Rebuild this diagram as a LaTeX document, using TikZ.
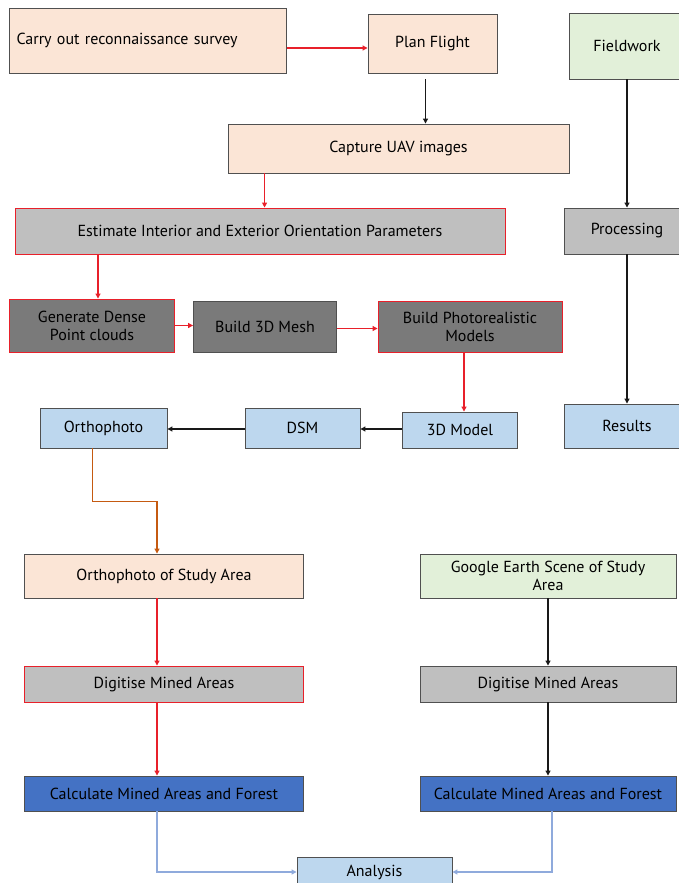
\documentclass[tikz,border=0pt]{standalone}
\usepackage{fontspec}
\setmainfont{PT Sans}
\usepackage{tikz}
\usetikzlibrary{arrows.meta,calc,positioning}
\definecolor{peach}{HTML}{FBE5D6}
\definecolor{leaf}{HTML}{E2F0D9}
\definecolor{lgray}{HTML}{BFBFBF}
\definecolor{dgray}{HTML}{7A7A7A}
\definecolor{sky}{HTML}{BDD7EE}
\definecolor{royal}{HTML}{4472C4}
\definecolor{edge}{HTML}{505050}
\definecolor{redline}{HTML}{E8202A}
\definecolor{rust}{HTML}{C55A11}
\definecolor{steel}{HTML}{8FAADC}

\begin{document}
\begin{tikzpicture}[x=1pt,y=-1pt,
	font=\fontsize{16}{18}\selectfont,
	box/.style={draw=edge, line width=0.9pt, inner sep=2pt, align=center},
	redbox/.style={box, draw=redline},
	arr/.style={line width=1.1pt, -{Triangle[length=5pt,width=5pt]}},
	redarr/.style={arr, redline},
	blackarr/.style={arr, black!90},
	rustarr/.style={arr, rust},
	steelarr/.style={arr, steel}]
	
	\useasboundingbox (0,0) rectangle (679,883);
	\clip (0,0) rectangle (679,883);
	
	% UAV branch
	\node (carry) at (148,40.5) [box, fill=peach, minimum width=277pt, minimum height=65pt, text width=263pt, align=left, inner xsep=7pt] {Carry out reconnaissance survey};
	\node (plan) at (432.5,43.5) [box, fill=peach, minimum width=129pt, minimum height=59pt] {Plan Flight};
	\node (capture) at (398.5,148.5) [box, fill=peach, minimum width=341pt, minimum height=49pt] {Capture UAV images};
	\node (estimate) at (260,231) [redbox, fill=lgray, minimum width=490pt, minimum height=46pt] {Estimate Interior and Exterior Orientation Parameters};
	
	\node (dense) at (92,325.5) [redbox, fill=dgray, minimum width=165pt, minimum height=53pt] {Generate Dense\\Point clouds};
	\node (mesh) at (265,326.5) [box, fill=dgray, minimum width=143pt, minimum height=51pt] {Build 3D Mesh};
	\node (photo) at (470,326.5) [redbox, fill=dgray, minimum width=184pt, minimum height=51pt] {Build Photorealistic\\Models};
	
	\node (ortho) at (103.5,428) [box, fill=sky, minimum width=127pt, minimum height=40pt] {Orthophoto};
	\node (dsm) at (302.5,428) [box, fill=sky, minimum width=115pt, minimum height=40pt] {DSM};
	\node (model) at (460,430) [box, fill=sky, minimum width=115pt, minimum height=36pt] {3D Model};
	
	% fieldwork branch
	\node (field) at (627,46) [box, fill=leaf, minimum width=116pt, minimum height=66pt] {Fieldwork};
	\node (proc) at (627,231) [box, fill=lgray, minimum width=126pt, minimum height=46pt] {Processing};
	\node (results) at (627,426) [box, fill=sky, minimum width=126pt, minimum height=44pt] {Results};
	
	% mapping
	\node (osa) at (164,576) [box, fill=peach, minimum width=279pt, minimum height=44pt] {Orthophoto of Study Area};
	\node (google) at (548,576) [box, fill=leaf, minimum width=256pt, minimum height=44pt, inner ysep=0pt] {Google Earth Scene of Study\\Area};
	\node (digL) at (164,684) [redbox, fill=lgray, minimum width=279pt, minimum height=36pt] {Digitise Mined Areas};
	\node (digR) at (548,684) [box, fill=lgray, minimum width=256pt, minimum height=36pt] {Digitise Mined Areas};
	\node (calcL) at (164,793.5) [box, fill=royal, minimum width=279pt, minimum height=35pt] {Calculate Mined Areas and Forest};
	\node (calcR) at (548,793.5) [box, fill=royal, minimum width=256pt, minimum height=35pt] {Calculate Mined Areas and Forest};
	\node (analysis) at (374.5,872) [box, fill=sky, minimum width=155pt, minimum height=30pt] {Analysis};
	
	% connectors
	\draw[redarr] ([yshift=-7.5pt]carry.east) -- ([yshift=-7.5pt]carry.east -| plan.west);
	\draw[blackarr] ([xshift=-7pt,yshift=-6pt]plan.south) -- ([xshift=-7pt]plan.south |- capture.north);
	\draw[redarr] ([xshift=37pt]capture.south west) -- ([xshift=37pt]capture.south west |- estimate.north);
	\draw[redarr] ([xshift=6pt]dense.north |- estimate.south) -- ([xshift=6pt]dense.north);
	\draw[redarr] (dense.east) -- (dense.east -| mesh.west);
	\draw[redarr] ([yshift=-2pt]mesh.east) -- ([yshift=-2pt]mesh.east -| photo.west);
	\draw[redarr] ([xshift=4pt]model.north |- photo.south) -- ([xshift=4pt]model.north);
	\draw[blackarr] ([yshift=1pt]model.west) -- ([yshift=1pt]model.west -| dsm.east);
	\draw[blackarr] ([yshift=-1pt]dsm.west) -- ([yshift=-1pt]dsm.west -| ortho.east);
	
	\draw[blackarr] (field) -- (proc);
	\draw[blackarr] (proc) -- (results);
	
	\coordinate (obend) at ($(ortho.south)+(-11,53)$);
	\draw[rustarr] ([xshift=-11pt]ortho.south) -- (obend) -| ([xshift=-7pt]osa.north);
	\draw[redarr] ([xshift=-7pt]osa.south) -- ([xshift=-7pt]digL.north);
	\draw[redarr] ([xshift=-7pt]digL.south) -- ([xshift=-7pt]calcL.north);
	\draw[blackarr] (google) -- (digR);
	\draw[blackarr] (digR) -- (calcR);
	\draw[steelarr] ([xshift=-7pt]calcL.south) |- (analysis.west);
	\draw[steelarr] ([xshift=4pt]calcR.south) |- (analysis.east);
\end{tikzpicture}
\end{document}
